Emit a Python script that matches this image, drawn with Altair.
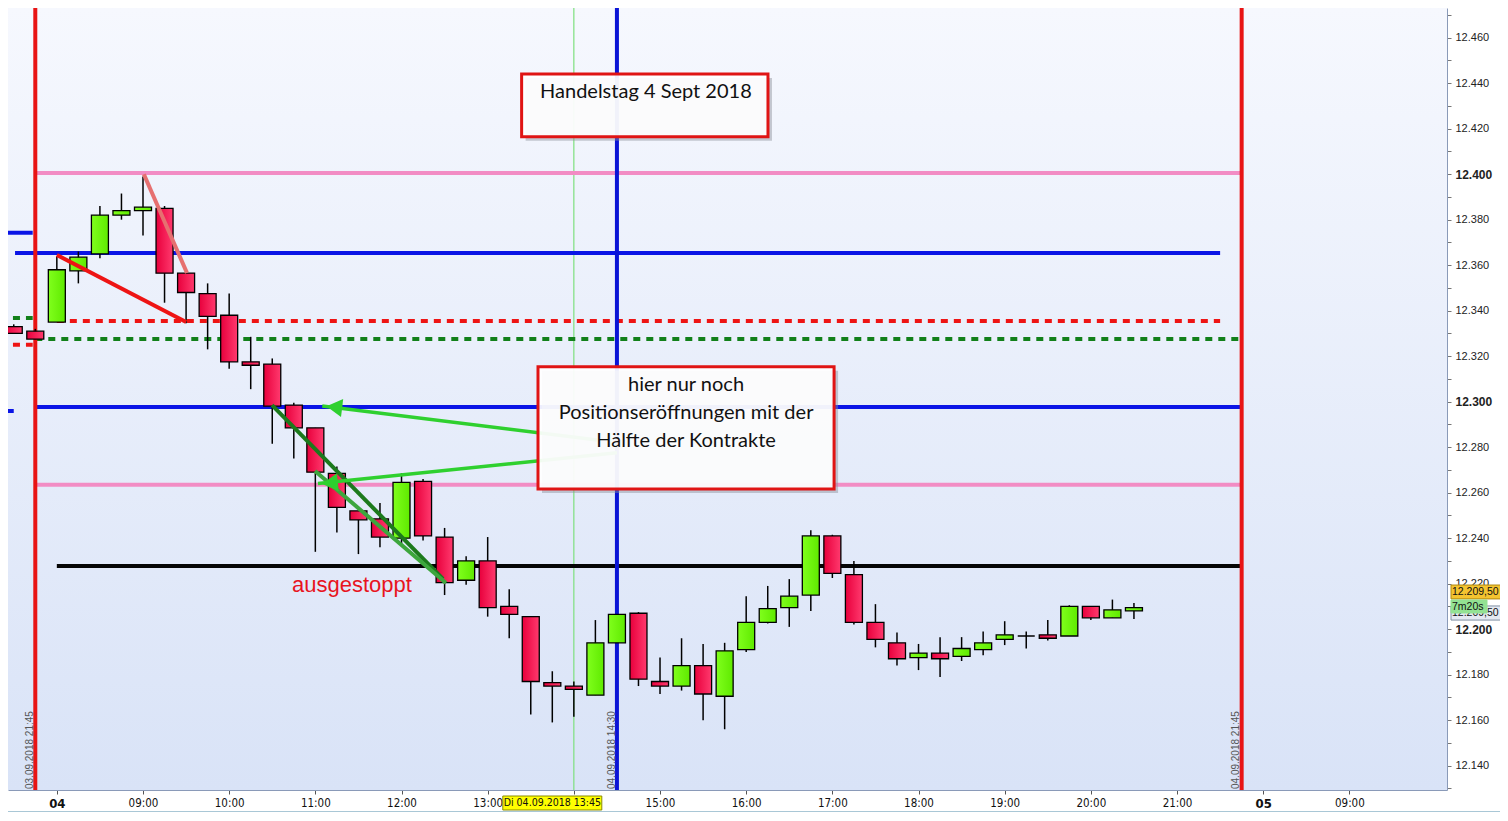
import altair as alt
import pandas as pd

# ---------------- data ----------------
days = ["03.09", "03.09"] + ["04.09"] * 51
times = ["21:30", "21:45",
         "08:00", "08:15", "08:30", "08:45", "09:00", "09:15", "09:30", "09:45",
         "10:00", "10:15", "10:30", "10:45", "11:00", "11:15", "11:30", "11:45",
         "12:00", "12:15", "12:30", "12:45", "13:00", "13:15", "13:30", "13:45",
         "14:00", "14:15", "14:30", "14:45", "15:00", "15:15", "15:30", "15:45",
         "16:00", "16:15", "16:30", "16:45", "17:00", "17:15", "17:30", "17:45",
         "18:00", "18:15", "18:30", "18:45", "19:00", "19:15", "19:30", "19:45",
         "20:00", "20:15", "20:30"]
opens = [12333, 12331, 12335, 12357.5, 12365, 12382, 12384, 12385, 12356.5, 12347.5,
         12338, 12317.5, 12316.5, 12298.5, 12288.5, 12268.5, 12252, 12248.5,
         12240, 12265, 12240.5, 12221.5, 12230, 12210, 12205.5, 12176.5,
         12175, 12171, 12194, 12207, 12177, 12175, 12184, 12170.5,
         12191, 12203, 12209.5, 12215, 12241, 12224, 12203, 12194,
         12187.5, 12189.5, 12188, 12191, 12195.5, 12197, 12197.5, 12197,
         12210, 12205, 12208]
highs = [12334, 12332, 12364, 12366, 12386, 12391.5, 12399, 12386, 12356.5, 12352,
         12347.5, 12328.5, 12319, 12299.5, 12288.5, 12271.5, 12252, 12255.5,
         12268.5, 12266, 12244.5, 12232, 12240.5, 12217.5, 12205.5, 12181.5,
         12177, 12204, 12206.5, 12207.5, 12187.5, 12196, 12193.5, 12194,
         12214.5, 12219, 12222, 12243.5, 12241.5, 12230, 12211, 12198.5,
         12193.5, 12196.5, 12196.5, 12199, 12203.5, 12199, 12204, 12210.5,
         12210, 12213, 12211.5]
lows = [12330, 12327.5, 12335, 12352, 12363, 12380, 12373, 12343.5, 12334.5, 12323,
        12314.5, 12305.5, 12281.5, 12275, 12234, 12242.5, 12233, 12236,
        12237.5, 12239, 12215, 12219.5, 12205.5, 12196, 12162.5, 12159,
        12161.5, 12171, 12194, 12175, 12171.5, 12173, 12160, 12156,
        12190, 12202.5, 12201, 12208, 12222.5, 12202, 12192, 12184,
        12182, 12179, 12186, 12188.5, 12193, 12191.5, 12195, 12197,
        12204, 12205, 12204.5]
closes = [12330, 12327.5, 12358, 12363.5, 12382, 12384, 12385.5, 12356.5, 12348, 12337.5,
          12317.5, 12316, 12298, 12288.5, 12269, 12253.5, 12248, 12240.5,
          12264.5, 12241, 12220.5, 12230, 12209.5, 12206.5, 12177, 12175,
          12173.5, 12194, 12206.5, 12178, 12175, 12184, 12171.5, 12190.5,
          12203, 12209, 12214.5, 12241, 12224.5, 12203, 12195.5, 12187,
          12189.5, 12187, 12191.5, 12194, 12197.5, 12197, 12196, 12210,
          12205, 12208.5, 12209.5]

# horizontal levels: (price, from, to)
pink_levels = [(12400.5, 7.75, 21.75), (12263.5, 7.75, 21.75)]
blue_levels = [(12365.4, 7.515, 21.5), (12297.7, 7.75, 21.75),
               (12374.2, 7.34, 7.72), (12295.9, 7.34, 7.50)]
black_levels = [(12227.8, 8.0, 21.75)]
red_dotted_levels = [(12335.5, 8.0, 21.5), (12325.0, 7.34, 7.72)]
green_dotted_levels = [(12327.6, 7.75, 21.75), (12336.8, 7.34, 7.72)]

# vertical markers (session hours)
red_verticals = [7.75, 21.75]
blue_verticals = [14.5]
cursor_verticals = [14.0]

# trend lines: (t1, p1, t2, p2)
red_trend = [(8.0, 12364.5, 9.5, 12335.0)]
salmon_trend = [(9.01, 12400.0, 9.51, 12356.6)]
darkgreen_trend = [(10.497, 12298.5, 12.481, 12222.1)]
midgreen_trend = [(10.996, 12269.5, 12.516, 12220.3)]
arrows = [(14.27, 12283.2, 11.08, 12298.1), (14.5, 12277.5, 11.03, 12264.0)]
arrow_heads_t = [11.22, 11.17]
arrow_heads_p = [12297.6, 12264.2]
arrow_heads_angle = [7, 354]

box1 = (13.394, 12444.0, 16.253, 12416.4)
box2 = (13.584, 12315.3, 17.02, 12261.6)
box1_text = ["Handelstag 4 Sept 2018"]
box1_text_pos = [(13.608, 12436.1)]
box2_text = ["hier nur noch", "Positionseröffnungen mit der", "Hälfte der Kontrakte"]
box2_text_pos = [(15.302, 12307.4), (15.302, 12295.1), (15.302, 12282.8)]
stop_text = ["ausgestoppt"]
stop_text_pos = [(10.729, 12219.5)]

vline_labels = ["03.09.2018 21:45", "04.09.2018 14:30", "04.09.2018 21:45"]
vline_label_t = [7.689, 14.443, 21.685]

x_tick_values = [8, 9, 10, 11, 12, 13, 14, 15, 16, 17, 18, 19, 20, 21, 22, 23]
y_tick_values = list(range(12130, 12471, 10))
last_price = 12209.5
cursor_label = "Di 04.09.2018 13:45"
cursor_t = 13.75

# ---------------- helpers ----------------
def session_pos(day, t):
    hh, mm = t.split(":")
    h = int(hh) + int(mm) / 60
    if day == "03.09":
        return 8 - (22 - h)
    return h

W, H = 1439, 782
NARROW = "Liberation Sans Narrow, Arial Narrow, DejaVu Sans Condensed, Roboto Condensed, Liberation Sans"
xs = alt.Scale(domain=[7.4333, 24.133], nice=False, zero=False, padding=0)
ys = alt.Scale(domain=[12129.3, 12473.05], nice=False, zero=False, padding=0)

candles = pd.DataFrame({
    "t": [session_pos(d, t) for d, t in zip(days, times)],
    "o": opens, "h": highs, "l": lows, "c": closes,
})
candles["up"] = candles["c"] >= candles["o"]

x_axis = alt.Axis(
    orient="bottom", values=x_tick_values, title=None, grid=False,
    labelExpr="datum.value==8 ? '04' : datum.value==22 ? '05' : datum.value==23 ? '09:00' : datum.value==14 ? '' : (datum.value<10 ? '0' : '') + datum.value + ':00'",
    labelFontWeight=alt.ExprRef(expr="datum.value==8 || datum.value==22 ? 'bold' : 'normal'"),
    labelFontSize=alt.ExprRef(expr="datum.value==8 || datum.value==22 ? 13 : 11.5"),
    labelFont=NARROW,
    labelColor="#111", tickColor="#555", tickSize=4, labelPadding=3,
    domainColor="#8a9ab8", labelOverlap=False, labelFlush=False,
)
y_axis = alt.Axis(
    orient="right", values=y_tick_values, title=None, grid=False,
    labelExpr="datum.value % 20 == 0 ? replace(format(datum.value, ','), ',', '.') : ''",
    labelFontWeight=alt.ExprRef(expr="datum.value % 100 == 0 ? 'bold' : 'normal'"),
    labelFontSize=alt.ExprRef(expr="datum.value % 100 == 0 ? 12 : 11"),
    labelFont="Liberation Sans", labelColor="#222", tickColor="#777",
    tickSize=4, labelPadding=4, domainColor="#8a9ab8",
    labelOverlap=False, labelFlush=False,
)


def X(field):
    return alt.X(field, scale=xs, axis=x_axis, title=None)


def Y(field):
    return alt.Y(field, scale=ys, axis=y_axis, title=None)


one = pd.DataFrame({"a": [0]})

bg = alt.Chart(one).mark_rect(
    fill=alt.Gradient(gradient="linear",
                      stops=[alt.GradientStop(color="#f6f8fe", offset=0),
                             alt.GradientStop(color="#d9e3f7", offset=1)],
                      x1=0, x2=0, y1=0, y2=1)
).encode(x=alt.value(0), x2=alt.value(W), y=alt.value(0), y2=alt.value(H))

bottom_strip = alt.Chart(one).mark_rect(fill="#a9c7d6").encode(
    x=alt.value(-8), x2=alt.value(W + 60), y=alt.value(H + 21), y2=alt.value(H + 30))


def seg_df(items):
    return pd.DataFrame({"x": [i[0] for i in items], "y": [i[1] for i in items],
                         "x2": [i[2] for i in items], "y2": [i[3] for i in items]})


def level_df(levels):
    return pd.DataFrame({"x": [l[1] for l in levels], "x2": [l[2] for l in levels],
                         "y": [l[0] for l in levels], "y2": [l[0] for l in levels]})


def seg_layer(df, color, width, dash=None, opacity=1.0):
    kw = dict(color=color, strokeWidth=width, clip=True, opacity=opacity)
    if dash:
        kw["strokeDash"] = dash
    return alt.Chart(df).mark_rule(**kw).encode(
        x=X("x:Q"), x2="x2:Q", y=Y("y:Q"), y2="y2:Q")


def vline_layer(vals, color, width):
    return alt.Chart(pd.DataFrame({"x": vals})).mark_rule(
        color=color, strokeWidth=width, clip=True).encode(x=X("x:Q"))


def box_layers(b):
    df = pd.DataFrame({"x": [b[0]], "y": [b[1]], "x2": [b[2]], "y2": [b[3]]})
    enc = dict(x=X("x:Q"), x2="x2:Q", y=Y("y:Q"), y2="y2:Q")
    shadow = alt.Chart(df).mark_rect(fill="#8a8f9a", opacity=0.45,
                                     xOffset=4, yOffset=4, x2Offset=4, y2Offset=4).encode(**enc)
    box = alt.Chart(df).mark_rect(fill="white", fillOpacity=0.93,
                                  stroke="#e01414", strokeWidth=3).encode(**enc)
    return [shadow, box]


def text_layer(texts, pos, **mk):
    df = pd.DataFrame({"txt": texts, "x": [p[0] for p in pos], "y": [p[1] for p in pos]})
    return alt.Chart(df).mark_text(**mk).encode(x=X("x:Q"), y=Y("y:Q"), text="txt:N")


layers = [bg, bottom_strip]

# levels & markers
layers.append(vline_layer(cursor_verticals, "#7ee07e", 1.2))
layers.append(seg_layer(level_df(pink_levels), "#f28cc4", 4))
layers.append(seg_layer(level_df(blue_levels), "#0a14e6", 4))
layers.append(seg_layer(level_df(red_dotted_levels), "#ee1414", 4, dash=[7, 6]))
layers.append(seg_layer(level_df(green_dotted_levels), "#12801a", 4, dash=[7, 6]))
layers.append(seg_layer(level_df(black_levels), "#050505", 4))
layers.append(vline_layer(red_verticals, "#e81414", 4))
layers.append(vline_layer(blue_verticals, "#0a14d6", 4))

# candles
wicks = alt.Chart(candles).mark_rule(color="black", strokeWidth=1.5).encode(
    x=X("t:Q"), y=Y("l:Q"), y2="h:Q")
layers.append(wicks)

green_fill = alt.Gradient(gradient="linear",
                          stops=[alt.GradientStop(color="#80ff1c", offset=0),
                                 alt.GradientStop(color="#5fea00", offset=1)],
                          x1=0, x2=1, y1=0, y2=0)
red_fill = alt.Gradient(gradient="linear",
                        stops=[alt.GradientStop(color="#e8003c", offset=0),
                               alt.GradientStop(color="#ff3a6e", offset=1)],
                        x1=0, x2=1, y1=0, y2=0)
up_bodies = alt.Chart(candles).transform_filter("datum.up").mark_bar(
    size=17, fill=green_fill, stroke="black", strokeWidth=1.3).encode(
    x=X("t:Q"), y=Y("o:Q"), y2="c:Q")
down_bodies = alt.Chart(candles).transform_filter("!datum.up").mark_bar(
    size=17, fill=red_fill, stroke="black", strokeWidth=1.3).encode(
    x=X("t:Q"), y=Y("o:Q"), y2="c:Q")
layers += [up_bodies, down_bodies]

# trend lines and arrows
layers.append(seg_layer(seg_df(red_trend), "#ee1414", 4))
layers.append(seg_layer(seg_df(salmon_trend), "#e67070", 4))
layers.append(seg_layer(seg_df(darkgreen_trend), "#1c7a1c", 4))
layers.append(seg_layer(seg_df(midgreen_trend), "#3da63d", 4))
layers.append(seg_layer(seg_df(arrows), "#2fd02f", 3.5))
heads = pd.DataFrame({"x": arrow_heads_t, "y": arrow_heads_p, "ang": arrow_heads_angle})
layers.append(alt.Chart(heads).mark_point(shape="triangle-left", filled=True, size=330,
                                          color="#2fd02f", opacity=1).encode(
    x=X("x:Q"), y=Y("y:Q"), angle=alt.Angle("ang:Q", scale=None)))

# text boxes
layers += box_layers(box1)
layers += box_layers(box2)
layers.append(text_layer(box1_text, box1_text_pos, align="left", baseline="middle",
                         font="Lato", fontSize=20, color="#111"))
layers.append(text_layer(box2_text, box2_text_pos, align="center", baseline="middle",
                         font="Lato", fontSize=20, color="#111"))
layers.append(text_layer(stop_text, stop_text_pos, align="left", baseline="middle",
                         font="Liberation Sans", fontSize=22, color="#e8141e"))

# rotated labels of vertical markers
vl = pd.DataFrame({"txt": vline_labels, "x": vline_label_t})
layers.append(alt.Chart(vl).mark_text(angle=270, align="left", baseline="middle",
                                      font="Liberation Sans", fontSize=10, color="#555").encode(
    x=X("x:Q"), y=alt.value(H - 1), text="txt:N"))

# cursor date label on the time axis
cur = pd.DataFrame({"x": [cursor_t], "txt": [cursor_label]})
layers.append(alt.Chart(cur).mark_bar(size=99, color="#ffff00", stroke="#8a8a00",
                                      strokeWidth=1).encode(
    x=X("x:Q"), y=alt.value(H + 6), y2=alt.value(H + 20)))
layers.append(alt.Chart(cur).mark_text(font=NARROW, fontSize=10.5, color="#111",
                                       baseline="middle").encode(
    x=X("x:Q"), y=alt.value(H + 13), text="txt:N"))

# price tags on the right
tag = pd.DataFrame({"p": [last_price]})


def tag_rect(lo, hi, x2, fill, stroke):
    return alt.Chart(tag).transform_calculate(
        a=f"datum.p + ({lo})", b=f"datum.p + ({hi})").mark_rect(
        fill=fill, stroke=stroke, strokeWidth=1).encode(
        x=alt.value(W + 4), x2=alt.value(W + x2), y=Y("a:Q"), y2="b:Q")


def tag_text(off, txt):
    return alt.Chart(tag).transform_calculate(
        a=f"datum.p + ({off})", txt=f"'{txt}'").mark_text(
        align="left", baseline="middle", font="Liberation Sans", fontSize=10.5,
        color="#111").encode(x=alt.value(W + 5), y=Y("a:Q"), text="txt:N")


layers.append(tag_rect(-5.5, 0.7, 56, "#e4e9f2", "#8090a4"))
layers.append(tag_text(-2.4, "12.209,50"))
layers.append(tag_rect(3.8, 9.9, 56, "#f4c430", "#b08a10"))
layers.append(tag_text(6.85, "12.209,50"))
layers.append(tag_rect(-2.4, 3.3, 40, "#93e293", "#93e293"))
layers.append(tag_text(0.45, "7m20s"))

chart = alt.layer(*layers).properties(
    width=W, height=H,
    padding={"left": 0, "top": 0, "right": 53, "bottom": 22},
    autosize=alt.AutoSizeParams(type="none"),
    background="white",
).configure_view(stroke=None)

chart.save("out.html", embed_options={"renderer": "svg", "actions": False})
